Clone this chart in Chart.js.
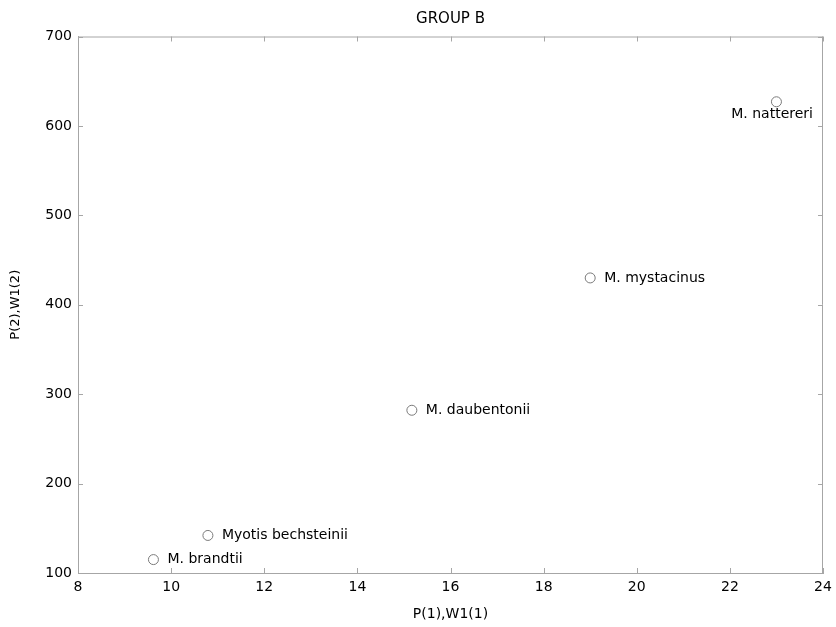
<!DOCTYPE html>
<html>
<head>
<meta charset="utf-8">
<script src="https://cdn.jsdelivr.net/npm/chart.js@4"></script>
<style>
  html, body { margin: 0; padding: 0; background: #fff; }
  #wrap { width: 836px; height: 627px; }
</style>
</head>
<body>
<div id="wrap"><canvas id="myChart"></canvas></div>
<script>
const species = ['M. brandtii', 'Myotis bechsteinii', 'M. daubentonii', 'M. mystacinus', 'M. nattereri'];
const p1 = [9.62, 10.79, 15.17, 19.0, 23.0];   // P(1),W1(1)
const p2 = [115, 142, 282, 430, 627];          // P(2),W1(2)

const axisGray = '#a6a6a6';
const fontFam = "'DejaVu Sans', sans-serif";

var points = [];
for (var i = 0; i < species.length; i++) {
  points.push({x: p1[i], y: p2[i]});
}

// box round the plot with inward ticks, like the old matlab plots
const boxTicks = {
  id: 'boxTicks',
  afterDraw(chart) {
    const ctx = chart.ctx;
    const a = chart.chartArea;
    const xs = chart.scales.x, ys = chart.scales.y;
    ctx.save();
    ctx.strokeStyle = axisGray;
    ctx.lineWidth = 1;
    ctx.beginPath();
    ctx.moveTo(a.left, a.top + 0.5);
    ctx.lineTo(a.right, a.top + 0.5);
    ctx.moveTo(a.right - 0.5, a.top);
    ctx.lineTo(a.right - 0.5, a.bottom);
    xs.ticks.forEach(t => {
      const px = Math.round(xs.getPixelForValue(t.value)) + 0.5;
      ctx.moveTo(px, a.bottom);
      ctx.lineTo(px, a.bottom - 5);
      ctx.moveTo(px, a.top);
      ctx.lineTo(px, a.top + 5);
    });
    ys.ticks.forEach(t => {
      const py = Math.round(ys.getPixelForValue(t.value)) + 0.5;
      ctx.moveTo(a.left, py);
      ctx.lineTo(a.left + 5, py);
      ctx.moveTo(a.right, py);
      ctx.lineTo(a.right - 5, py);
    });
    ctx.stroke();
    ctx.restore();
  }
};

// species names next to the points
const pointLabels = {
  id: 'pointLabels',
  afterDatasetsDraw(chart) {
    const ctx = chart.ctx;
    const a = chart.chartArea;
    const meta = chart.getDatasetMeta(0);
    ctx.save();
    ctx.font = '14px ' + fontFam;
    ctx.fillStyle = '#000';
    ctx.textBaseline = 'middle';
    meta.data.forEach((pt, i) => {
      const w = ctx.measureText(species[i]).width;
      if (pt.x + 14 + w > a.right) {
        // no room on the right, put it under the point
        ctx.textAlign = 'right';
        ctx.fillText(species[i], a.right - 10, pt.y + 13);
      } else {
        ctx.textAlign = 'left';
        ctx.fillText(species[i], pt.x + 14, pt.y);
      }
    });
    ctx.restore();
  }
};

const ctx = document.getElementById('myChart');

new Chart(ctx, {
  type: 'scatter',
  data: {
    datasets: [{
      label: 'Group B',
      data: points,
      pointRadius: 5,
      pointHoverRadius: 5,
      pointBorderWidth: 1,
      borderColor: '#7a7a7a',
      backgroundColor: 'rgba(0,0,0,0)'
    }]
  },
  options: {
    responsive: true,
    maintainAspectRatio: false,
    animation: false,
    layout: { padding: { left: 0, right: 13, top: 0, bottom: 0 } },
    plugins: {
      legend: { display: false },
      tooltip: { enabled: false },
      title: {
        display: true,
        text: 'GROUP B',
        fullSize: false,
        color: '#000',
        font: { family: fontFam, size: 15, weight: 'normal' },
        padding: { top: 10, bottom: 8.5 }
      }
    },
    scales: {
      x: {
        type: 'linear',
        min: 8,
        max: 24,
        afterFit: (scale) => {
          scale.height = 54;
          scale.paddingLeft = 0;
          scale.paddingRight = 0;
        },
        ticks: {
          stepSize: 2,
          padding: 6,
          color: '#000',
          font: { family: fontFam, size: 14 }
        },
        grid: { drawOnChartArea: false, drawTicks: false },
        border: { display: true, color: axisGray },
        title: {
          display: true,
          text: 'P(1),W1(1)',
          color: '#000',
          font: { family: fontFam, size: 14 },
          padding: { top: 0, bottom: 4 }
        }
      },
      y: {
        type: 'linear',
        min: 100,
        max: 700,
        afterFit: (scale) => { scale.width = 78; },
        ticks: {
          stepSize: 100,
          padding: 6,
          color: '#000',
          font: { family: fontFam, size: 14 }
        },
        grid: { drawOnChartArea: false, drawTicks: false },
        border: { display: true, color: axisGray },
        title: {
          display: true,
          text: 'P(2),W1(2)',
          color: '#000',
          font: { family: fontFam, size: 13 },
          padding: { top: 8, bottom: 0 }
        }
      }
    }
  },
  plugins: [boxTicks, pointLabels]
});
</script>
</body>
</html>
